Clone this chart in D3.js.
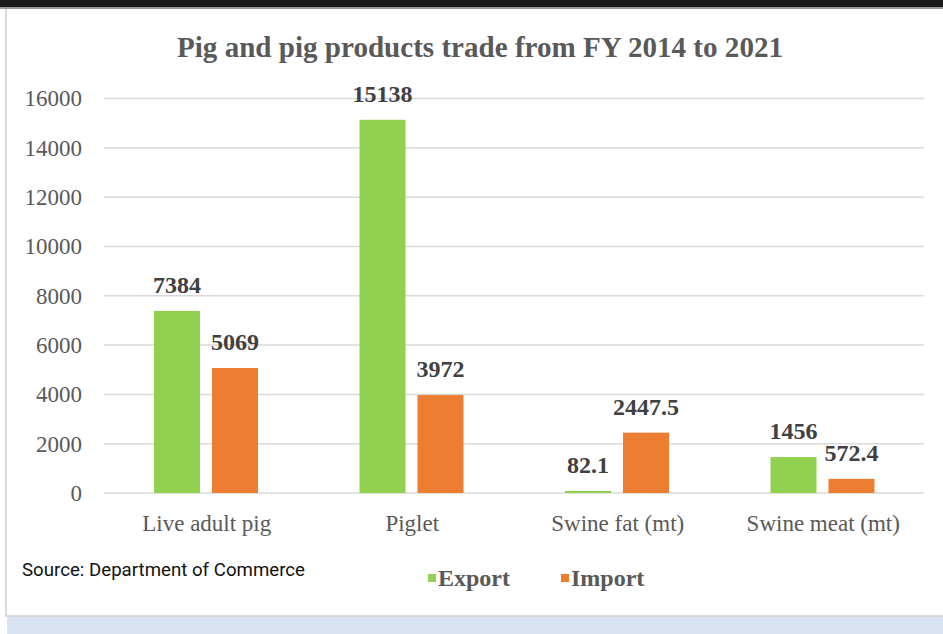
<!DOCTYPE html>
<html><head><meta charset="utf-8">
<script src="https://cdn.jsdelivr.net/npm/d3@7"></script>
<style>body{margin:0;background:#fff}svg{display:block}</style>
</head><body>
<script>
const categories = ["Live adult pig", "Piglet", "Swine fat (mt)", "Swine meat (mt)"];
const exportValues = [7384, 15138, 82.1, 1456];
const importValues = [5069, 3972, 2447.5, 572.4];
const exportLabels = ["7384", "15138", "82.1", "1456"];
const importLabels = ["5069", "3972", "2447.5", "572.4"];
const yTicks = [0, 2000, 4000, 6000, 8000, 10000, 12000, 14000, 16000];
const seriesNames = ["Export", "Import"];
const colors = ["#92d050", "#ed7d31"];

const W = 943, H = 634;
const svg = d3.select("body").append("svg").attr("width", W).attr("height", H);

// frame
svg.append("rect").attr("x",0).attr("y",0).attr("width",W).attr("height",H).attr("fill","#ffffff");
svg.append("rect").attr("x",7).attr("y",617).attr("width",W-7).attr("height",17).attr("fill","#dae3f3");
svg.append("rect").attr("x",0).attr("y",0).attr("width",W).attr("height",7).attr("fill","#1b1b1b");
svg.append("rect").attr("x",0).attr("y",7).attr("width",W).attr("height",2).attr("fill","#9a9a9a");
svg.append("rect").attr("x",5).attr("y",9).attr("width",W-5).attr("height",608).attr("fill","#d9d9d9");
svg.append("rect").attr("x",7).attr("y",9).attr("width",W-7).attr("height",606).attr("fill","#ffffff");

const y = d3.scaleLinear().domain([0,16000]).range([493,98.5]);
const x0 = d3.scaleBand().domain(categories).range([104,926]).paddingInner(0).paddingOuter(0);
const x1 = d3.scaleBand().domain(seriesNames).range([50, 50+104]).paddingInner(12/58).paddingOuter(0);

// gridlines
svg.append("g").selectAll("line").data(yTicks).join("line")
  .attr("x1",104).attr("x2",924)
  .attr("y1",d=>y(d)).attr("y2",d=>y(d))
  .attr("stroke","#d9d9d9").attr("stroke-width",1.5);

// y axis labels
const yAxis = d3.axisLeft(y).tickValues(yTicks).tickSize(0).tickPadding(0).tickFormat(d3.format("d"));
const gy = svg.append("g").attr("transform","translate(82,0)").call(yAxis);
gy.select(".domain").remove();
gy.selectAll("text").attr("font-family","'Liberation Serif','Times New Roman',serif")
  .attr("font-size",23).attr("fill","#595959");

// x axis labels
const xAxis = d3.axisBottom(x0).tickSize(0).tickPadding(0);
const gx = svg.append("g").attr("transform","translate(0,515)").call(xAxis);
gx.select(".domain").remove();
gx.selectAll("text").attr("font-family","'Liberation Serif','Times New Roman',serif")
  .attr("font-size",23).attr("fill","#595959").attr("dy","0.71em");

const data = categories.map((c,i)=>({c, vals:[
  {s:"Export", v:exportValues[i], l:exportLabels[i]},
  {s:"Import", v:importValues[i], l:importLabels[i]}]}));

const groups = svg.append("g").selectAll("g").data(data).join("g")
  .attr("transform",d=>`translate(${x0(d.c)},0)`);
groups.selectAll("rect").data(d=>d.vals).join("rect")
  .attr("x",d=>x1(d.s)).attr("width",x1.bandwidth())
  .attr("y",d=>y(d.v)).attr("height",d=>y(0)-y(d.v))
  .attr("fill",(d,i)=>colors[i]);
groups.selectAll("text").data(d=>d.vals).join("text")
  .attr("x",d=>x1(d.s)+x1.bandwidth()/2).attr("y",d=>y(d.v)-18)
  .attr("text-anchor","middle")
  .attr("font-family","'Liberation Serif','Times New Roman',serif")
  .attr("font-weight","bold").attr("font-size",24).attr("fill","#404040")
  .text(d=>d.l);

// title
svg.append("text").attr("x",480).attr("y",57).attr("text-anchor","middle")
  .attr("font-family","'Liberation Serif','Times New Roman',serif")
  .attr("font-weight","bold").attr("font-size",30).attr("fill","#595959")
  .attr("textLength",606).attr("lengthAdjust","spacingAndGlyphs")
  .text("Pig and pig products trade from FY 2014 to 2021");

// source
svg.append("text").attr("x",22).attr("y",576)
  .attr("font-family","Roboto, 'Noto Sans', sans-serif").attr("font-size",19).attr("fill","#111")
  .attr("textLength",283).attr("lengthAdjust","spacingAndGlyphs")
  .text("Source: Department of Commerce");

// legend
const legX = [428, 561];
const leg = svg.append("g").selectAll("g").data(seriesNames).join("g")
  .attr("transform",(d,i)=>`translate(${legX[i]},0)`);
leg.append("rect").attr("x",0).attr("y",574).attr("width",8).attr("height",8).attr("fill",(d,i)=>colors[i]);
leg.append("text").attr("x",10).attr("y",586)
  .attr("font-family","'Liberation Serif','Times New Roman',serif")
  .attr("font-weight","bold").attr("font-size",24).attr("fill","#595959")
  .text(d=>d);
</script>
</body></html>
